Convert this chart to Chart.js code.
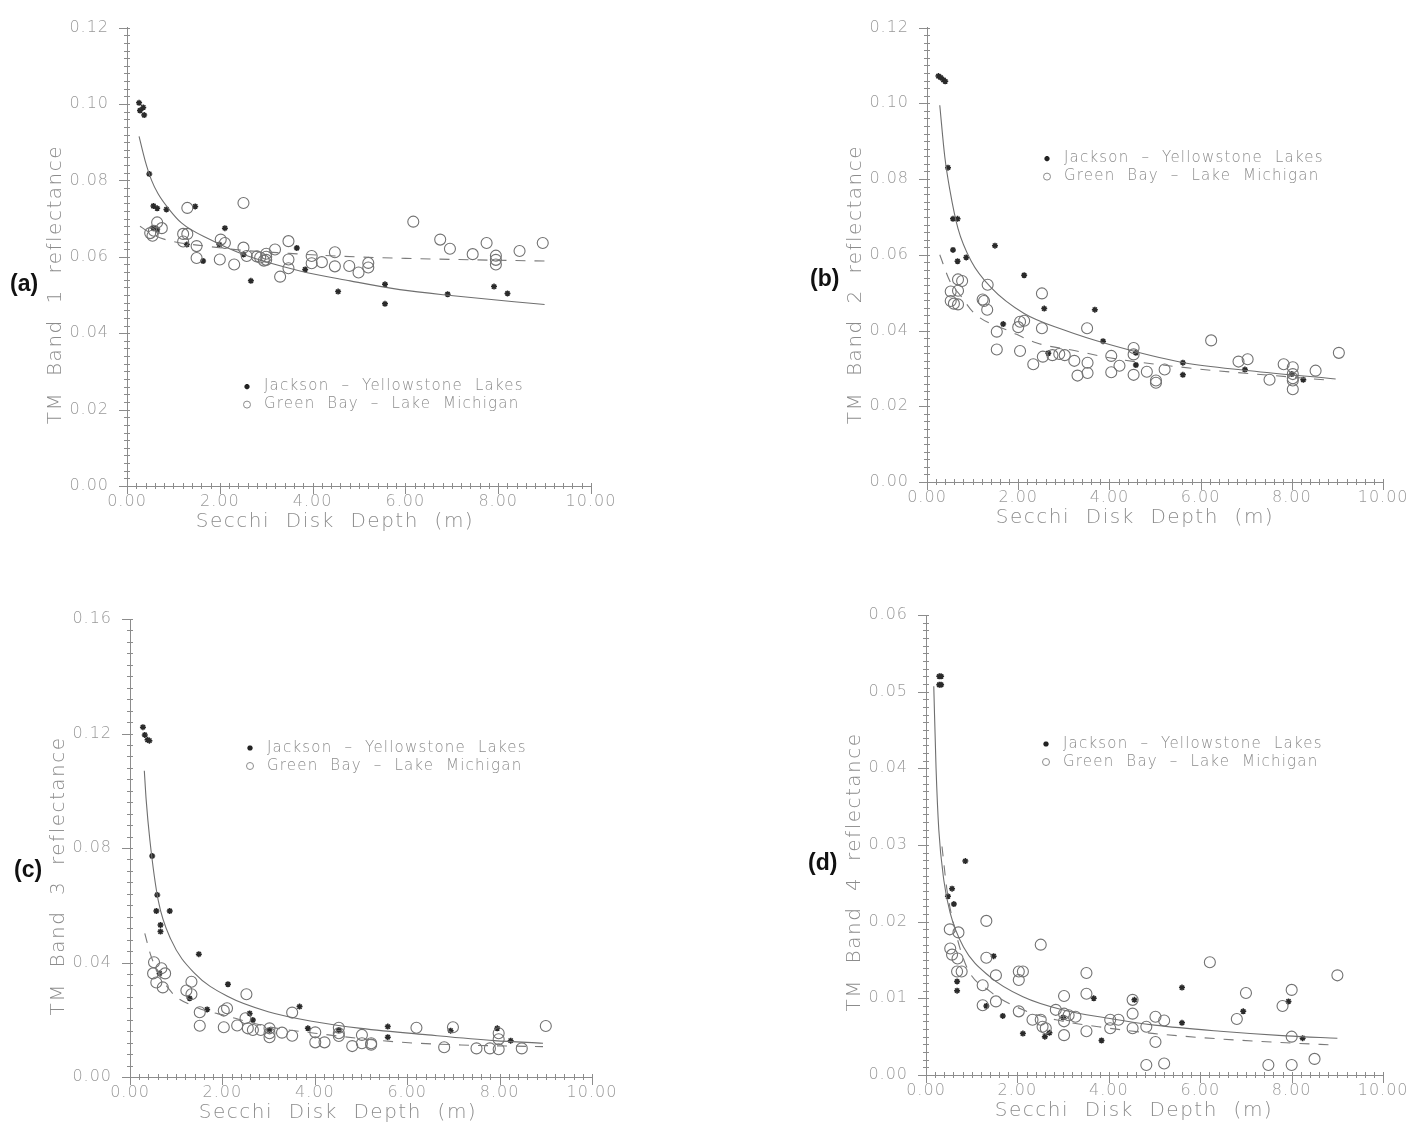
<!DOCTYPE html>
<html>
<head>
<meta charset="utf-8">
<script src="https://cdn.jsdelivr.net/npm/chart.js@4.4.1/dist/chart.umd.min.js"></script>
<style>
	html, body { margin: 0; padding: 0; background: #fff; }
	body { width: 1412px; height: 1125px; position: relative; overflow: hidden; }
	.panel { position: absolute; width: 706px; }
	.tag { position: absolute; font: bold 23px "Liberation Sans", Arial, sans-serif; color: #111; line-height: 26px; }
</style>
</head>
<body>
<div class="panel" style="left:0;top:0;height:562px"><canvas id="band1"></canvas></div>
<div class="panel" style="left:706px;top:0;height:562px"><canvas id="band2"></canvas></div>
<div class="panel" style="left:0;top:562px;height:563px"><canvas id="band3"></canvas></div>
<div class="panel" style="left:706px;top:562px;height:563px"><canvas id="band4"></canvas></div>
<div class="tag" style="left:10px;top:270px">(a)</div>
<div class="tag" style="left:810px;top:265px">(b)</div>
<div class="tag" style="left:14px;top:856px">(c)</div>
<div class="tag" style="left:808px;top:849px">(d)</div>
<script>
// [Secchi depth (m), reflectance] pairs, one set per TM band
var band1Jackson = [[0.26,0.1003],[0.35,0.0991],[0.28,0.0983],[0.37,0.0971],[0.48,0.0817],[0.57,0.0733],[0.65,0.0727],[0.85,0.0724],[1.47,0.0732],[2.11,0.0675],[0.57,0.0675],[0.65,0.0672],[1.29,0.0632],[1.64,0.0589],[1.99,0.0632],[2.51,0.0606],[2.67,0.0537],[3.66,0.0623],[3.84,0.0567],[4.55,0.0509],[5.56,0.0528],[5.56,0.0477],[6.91,0.0502],[7.91,0.0522],[8.2,0.0504]]
var band1GreenBay = [[1.3,0.0728],[2.51,0.0741],[0.65,0.069],[0.75,0.0675],[0.5,0.0662],[0.58,0.0668],[0.55,0.0655],[1.21,0.066],[1.3,0.066],[1.21,0.064],[1.5,0.0628],[1.5,0.0597],[2.02,0.0645],[2.11,0.0636],[2.0,0.0593],[2.31,0.058],[2.51,0.0624],[2.58,0.0602],[2.8,0.0601],[2.87,0.0598],[3.0,0.0608],[3.0,0.06],[3.0,0.0592],[2.95,0.059],[3.19,0.0619],[3.48,0.0641],[3.48,0.0593],[3.3,0.0548],[3.48,0.057],[3.98,0.0602],[3.98,0.0583],[4.2,0.0586],[4.48,0.0612],[4.48,0.0575],[4.79,0.0576],[4.99,0.0559],[5.2,0.0584],[5.2,0.0572],[6.17,0.0692],[6.75,0.0645],[6.96,0.0621],[7.45,0.0607],[7.75,0.0636],[7.95,0.0603],[7.95,0.0592],[7.95,0.058],[8.46,0.0615],[8.96,0.0636]]
var band1JacksonFit = [[0.26,0.0915],[0.39,0.0852],[0.53,0.08],[0.67,0.0765],[0.89,0.0727],[1.18,0.0688],[1.79,0.0645],[2.51,0.0606],[3.73,0.0563],[4.81,0.0537],[5.88,0.0514],[7.03,0.0498],[9.0,0.0475]]
var band1GreenBayFit = [[0.28,0.068],[0.6,0.0655],[1.0,0.064],[1.7,0.0628],[2.5,0.0617],[3.5,0.0609],[4.5,0.0602],[6.0,0.0596],[7.5,0.0592],[9.0,0.0589]]

var band2Jackson = [[0.25,0.1072],[0.3,0.1068],[0.36,0.1062],[0.4,0.1058],[0.46,0.083],[0.57,0.0695],[0.67,0.0695],[0.57,0.0613],[0.67,0.0583],[0.86,0.0593],[1.49,0.0624],[2.13,0.0546],[1.67,0.0417],[2.57,0.0458],[3.68,0.0455],[3.86,0.0372],[2.66,0.034],[4.58,0.0341],[4.58,0.0309],[5.61,0.0315],[5.61,0.0283],[6.97,0.0297],[8.0,0.0285],[8.25,0.027]]
var band2GreenBay = [[0.68,0.0535],[0.77,0.0531],[0.52,0.0503],[0.68,0.0505],[0.52,0.0478],[0.59,0.0471],[0.68,0.0469],[1.33,0.0521],[1.22,0.0482],[1.25,0.0478],[1.32,0.0455],[1.53,0.0397],[1.53,0.035],[2.04,0.0423],[2.13,0.0426],[2.0,0.0409],[2.04,0.0346],[2.52,0.0498],[2.52,0.0406],[2.33,0.0311],[2.54,0.0331],[2.75,0.0335],[2.9,0.0338],[3.02,0.0335],[3.23,0.032],[3.51,0.0406],[3.52,0.0315],[3.3,0.0281],[3.52,0.0288],[4.04,0.0333],[4.22,0.0307],[4.04,0.029],[4.53,0.0354],[4.53,0.0337],[4.53,0.0283],[4.82,0.0291],[5.02,0.0268],[5.02,0.0262],[5.21,0.0297],[6.23,0.0374],[6.83,0.0318],[7.03,0.0324],[7.51,0.027],[7.82,0.0311],[8.02,0.0303],[8.02,0.0285],[8.02,0.0274],[8.02,0.0268],[8.02,0.0245],[8.52,0.0294],[9.03,0.0341]]
var band2JacksonFit = [[0.28,0.0995],[0.39,0.0859],[0.5,0.0772],[0.68,0.0669],[0.97,0.0583],[1.4,0.0514],[2.13,0.0445],[2.99,0.0402],[4.0,0.0363],[5.63,0.0315],[7.08,0.0294],[8.96,0.0272]]
var band2GreenBayFit = [[0.28,0.06],[0.5,0.0531],[0.75,0.049],[1.04,0.0445],[1.84,0.0397],[2.41,0.0367],[3.28,0.0346],[4.0,0.0328],[5.99,0.0298],[7.5,0.0282],[8.9,0.0268]]

var band3Jackson = [[0.28,0.1222],[0.32,0.1195],[0.38,0.1178],[0.42,0.1175],[0.48,0.0772],[0.59,0.0636],[0.57,0.058],[0.86,0.058],[0.66,0.0531],[0.66,0.0508],[1.49,0.0429],[2.12,0.0324],[3.67,0.0246],[1.67,0.0236],[2.59,0.0222],[2.66,0.0199],[3.85,0.017],[0.64,0.0362],[1.29,0.0275],[3.02,0.0164],[4.52,0.0164],[5.58,0.0176],[5.58,0.0139],[6.94,0.0162],[7.95,0.017],[8.24,0.0127]]
var band3GreenBay = [[0.52,0.0401],[0.5,0.0362],[0.68,0.038],[0.76,0.0362],[0.57,0.033],[0.71,0.0313],[1.33,0.0333],[1.22,0.0302],[1.33,0.0289],[1.51,0.0226],[1.51,0.0179],[2.03,0.0232],[2.1,0.024],[2.03,0.0174],[2.52,0.0289],[2.5,0.0205],[2.32,0.018],[2.55,0.017],[2.66,0.0164],[2.83,0.0164],[3.02,0.017],[3.02,0.0153],[3.02,0.0139],[3.29,0.0155],[3.51,0.0225],[3.51,0.0144],[4.01,0.0156],[4.01,0.0121],[4.21,0.0121],[4.52,0.0172],[4.52,0.0153],[4.52,0.0143],[5.02,0.0147],[4.81,0.0108],[5.02,0.0118],[5.22,0.0118],[5.22,0.0113],[6.2,0.0172],[6.99,0.0174],[6.8,0.0104],[7.5,0.01],[7.79,0.01],[7.98,0.0153],[7.98,0.0132],[7.98,0.0097],[8.48,0.01],[9.0,0.0178]]
var band3JacksonFit = [[0.31,0.107],[0.35,0.0968],[0.43,0.0828],[0.61,0.0618],[0.89,0.0479],[1.4,0.0362],[2.12,0.0281],[2.99,0.0228],[4.0,0.0193],[5.0,0.017],[6.45,0.0147],[7.89,0.0127],[8.94,0.0118]]
var band3GreenBayFit = [[0.32,0.0502],[0.46,0.042],[0.89,0.0298],[1.4,0.0246],[2.12,0.0212],[2.99,0.0176],[4.0,0.0153],[5.73,0.0123],[7.17,0.0112],[8.94,0.0106]]

var band4Jackson = [[0.29,0.052],[0.33,0.052],[0.29,0.0509],[0.33,0.0509],[0.86,0.0279],[0.57,0.0243],[0.48,0.0233],[0.61,0.0223],[0.68,0.0122],[0.68,0.011],[1.48,0.0155],[1.32,0.009],[1.68,0.0077],[2.12,0.0054],[2.6,0.005],[2.7,0.0055],[3.0,0.0075],[3.67,0.01],[3.84,0.0045],[4.56,0.0098],[5.6,0.0114],[5.6,0.0068],[6.94,0.0083],[7.93,0.0096],[8.24,0.0048]]
var band4GreenBay = [[0.52,0.019],[0.71,0.0186],[1.32,0.0201],[0.53,0.0165],[0.57,0.0157],[0.69,0.0152],[0.68,0.0135],[0.78,0.0135],[1.32,0.0153],[1.53,0.013],[1.24,0.0117],[1.24,0.0091],[1.53,0.0096],[2.51,0.017],[2.03,0.0135],[2.12,0.0135],[2.03,0.0124],[2.03,0.0083],[2.33,0.0072],[2.51,0.0072],[2.55,0.0063],[2.62,0.0061],[2.84,0.0085],[3.02,0.0103],[3.02,0.008],[3.02,0.007],[3.02,0.0052],[3.27,0.0076],[3.12,0.0078],[3.51,0.0133],[3.51,0.0106],[3.51,0.0057],[4.03,0.0072],[4.03,0.0061],[4.21,0.0072],[4.52,0.0098],[4.52,0.008],[4.52,0.0061],[5.02,0.0076],[5.21,0.0071],[4.82,0.0063],[5.02,0.0043],[4.82,0.0013],[5.21,0.0015],[6.21,0.0147],[7.0,0.0107],[6.8,0.0073],[7.8,0.009],[8.0,0.0111],[8.0,0.005],[7.49,0.0013],[8.0,0.0013],[8.5,0.0021],[9.0,0.013]]
var band4JacksonFit = [[0.17,0.0507],[0.22,0.04],[0.28,0.032],[0.39,0.0254],[0.53,0.0211],[0.82,0.0167],[1.4,0.0128],[2.12,0.0102],[2.98,0.0085],[3.99,0.0074],[5.0,0.0065],[6.44,0.0057],[7.88,0.0051],[9.0,0.0048]]
var band4GreenBayFit = [[0.35,0.0298],[0.46,0.0241],[0.6,0.0198],[0.89,0.0141],[1.4,0.0109],[2.12,0.0085],[2.84,0.0072],[3.77,0.0063],[5.0,0.0054],[6.44,0.0047],[7.88,0.0042],[9.0,0.0039]]

var depthTicks = [0, 2, 4, 6, 8, 10]
var legendLabels = ["Jackson  \u2013  Yellowstone  Lakes", "Green  Bay  \u2013  Lake  Michigan"]

var GREY = "#8c8c8c"
var FONT = '"DejaVu Sans", sans-serif'

function points(pairs) {
	return pairs.map(function (p) { return {x: p[0], y: p[1]} })
}

// axis titles, minor ticks and the in-plot key
var paperAxes = {
	id: "paperAxes",
	beforeDraw: function (chart) {
		chart.ctx.letterSpacing = "1px"
	},
	afterDraw: function (chart, args, opts) {
		var ctx = chart.ctx, area = chart.chartArea
		var xs = chart.scales.x, ys = chart.scales.y
		ctx.save()
		ctx.strokeStyle = GREY
		ctx.lineWidth = 1
		ctx.beginPath()
		for (var i = 0; i <= 50; i++) {
			var px = Math.round(xs.getPixelForValue(i * 0.2)) + 0.5
			ctx.moveTo(px, area.bottom - 3)
			ctx.lineTo(px, area.bottom + (i % 10 === 0 ? 8 : 3))
		}
		var n = Math.round(opts.yMax / opts.yMinor)
		for (var j = 0; j <= n; j++) {
			var py = Math.round(ys.getPixelForValue(j * opts.yMinor)) + 0.5
			ctx.moveTo(area.left - (j % 10 === 0 ? 8 : 3), py)
			ctx.lineTo(area.left + 3, py)
		}
		ctx.stroke()

		ctx.fillStyle = GREY
		ctx.textBaseline = "middle"
		ctx.textAlign = "center"
		ctx.letterSpacing = "1.5px"
		ctx.font = "200 20px " + FONT
		ctx.fillText("Secchi  Disk  Depth  (m)", area.left + 208, area.bottom + 36)
		ctx.save()
		ctx.translate(area.left - 71, area.top + 257)
		ctx.rotate(-Math.PI / 2)
		ctx.fillText("TM  Band  " + opts.band + "  reflectance", 0, 0)
		ctx.restore()

		// key: drawPoint strokes with whatever the context holds
		var kx = area.left + 120, ky = area.top + opts.legendTop
		ctx.strokeStyle = "#222"
		ctx.lineWidth = 1.8
		Chart.helpers.drawPoint(ctx, {pointStyle: "star", radius: 2.6, borderWidth: 1.8}, kx, ky)
		ctx.strokeStyle = GREY
		ctx.lineWidth = 1
		ctx.beginPath()
		ctx.arc(kx, ky + 18, 3.5, 0, Math.PI * 2)
		ctx.stroke()
		ctx.textAlign = "left"
		ctx.letterSpacing = "1.2px"
		ctx.font = "200 15px " + FONT
		ctx.fillText(legendLabels[0], kx + 17, ky)
		ctx.fillText(legendLabels[1], kx + 17, ky + 18)
		ctx.restore()
	},
}

var panels = [
	{id: "band1", band: 1, jackson: band1Jackson, greenBay: band1GreenBay, jacksonFit: band1JacksonFit, greenBayFit: band1GreenBayFit, yMax: 0.12, yStep: 0.02, yMinor: 0.002, area: [127, 22, 591, 486], height: 562, legendTop: 359},
	{id: "band2", band: 2, jackson: band2Jackson, greenBay: band2GreenBay, jacksonFit: band2JacksonFit, greenBayFit: band2GreenBayFit, yMax: 0.12, yStep: 0.02, yMinor: 0.002, area: [221, 18, 682, 482], height: 562, legendTop: 131},
	{id: "band3", band: 3, jackson: band3Jackson, greenBay: band3GreenBay, jacksonFit: band3JacksonFit, greenBayFit: band3GreenBayFit, yMax: 0.16, yStep: 0.04, yMinor: 0.004, area: [130, 57, 592, 515], height: 563, legendTop: 129},
	{id: "band4", band: 4, jackson: band4Jackson, greenBay: band4GreenBay, jacksonFit: band4JacksonFit, greenBayFit: band4GreenBayFit, yMax: 0.06, yStep: 0.01, yMinor: 0.001, area: [220, 53, 683, 513], height: 563, legendTop: 129},
]

var Y_AXIS_W = 100, X_AXIS_H = 30

panels.forEach(function (p) {
	var ctx = document.getElementById(p.id).getContext("2d")
	new Chart(ctx, {
		type: "scatter",
		data: {
			datasets: [
				{
					data: points(p.greenBayFit),
					showLine: true,
					pointRadius: 0,
					borderColor: "#7a7a7a",
					borderWidth: 1.1,
					borderDash: [10, 9],
					cubicInterpolationMode: "monotone",
				},
				{
					data: points(p.jacksonFit),
					showLine: true,
					pointRadius: 0,
					borderColor: "#6f6f6f",
					borderWidth: 1.1,
					cubicInterpolationMode: "monotone",
				},
				{
					data: points(p.greenBay),
					pointStyle: "circle",
					pointRadius: 5.5,
					borderColor: "#727272",
					backgroundColor: "rgba(0,0,0,0)",
					borderWidth: 1.1,
				},
				{
					data: points(p.jackson),
					pointStyle: "star",
					pointRadius: 3,
					borderColor: "#2a2a2a",
					borderWidth: 1.5,
				},
			],
		},
		options: {
			responsive: true,
			maintainAspectRatio: false,
			animation: false,
			events: [],
			layout: {
				padding: {
					left: p.area[0] - Y_AXIS_W,
					top: p.area[1],
					right: 706 - p.area[2],
					bottom: p.height - p.area[3] - X_AXIS_H,
				},
			},
			scales: {
				x: {
					type: "linear",
					min: 0,
					max: 10,
					afterFit: function (s) { s.height = X_AXIS_H },
					afterBuildTicks: function (s) {
						s.ticks = depthTicks.map(function (v) { return {value: v} })
					},
					grid: {display: true, drawOnChartArea: false, drawTicks: false},
					border: {display: true, color: GREY, width: 1},
					ticks: {
						padding: 6,
						color: "#999",
						font: {family: FONT, size: 16, weight: "200"},
						maxRotation: 0,
						callback: function (v) { return v.toFixed(2) },
					},
				},
				y: {
					type: "linear",
					min: 0,
					max: p.yMax,
					afterFit: function (s) { s.width = Y_AXIS_W },
					grid: {display: true, drawOnChartArea: false, drawTicks: false},
					border: {display: true, color: GREY, width: 1},
					ticks: {
						stepSize: p.yStep,
						autoSkip: false,
						padding: 18,
						color: "#999",
						font: {family: FONT, size: 16, weight: "200"},
						callback: function (v) { return v.toFixed(2) },
					},
				},
			},
			plugins: {
				legend: {display: false},
				tooltip: {enabled: false},
				paperAxes: {band: p.band, yMax: p.yMax, yMinor: p.yMinor, legendTop: p.legendTop},
			},
		},
		plugins: [paperAxes],
	})
})
</script>
</body>
</html>
